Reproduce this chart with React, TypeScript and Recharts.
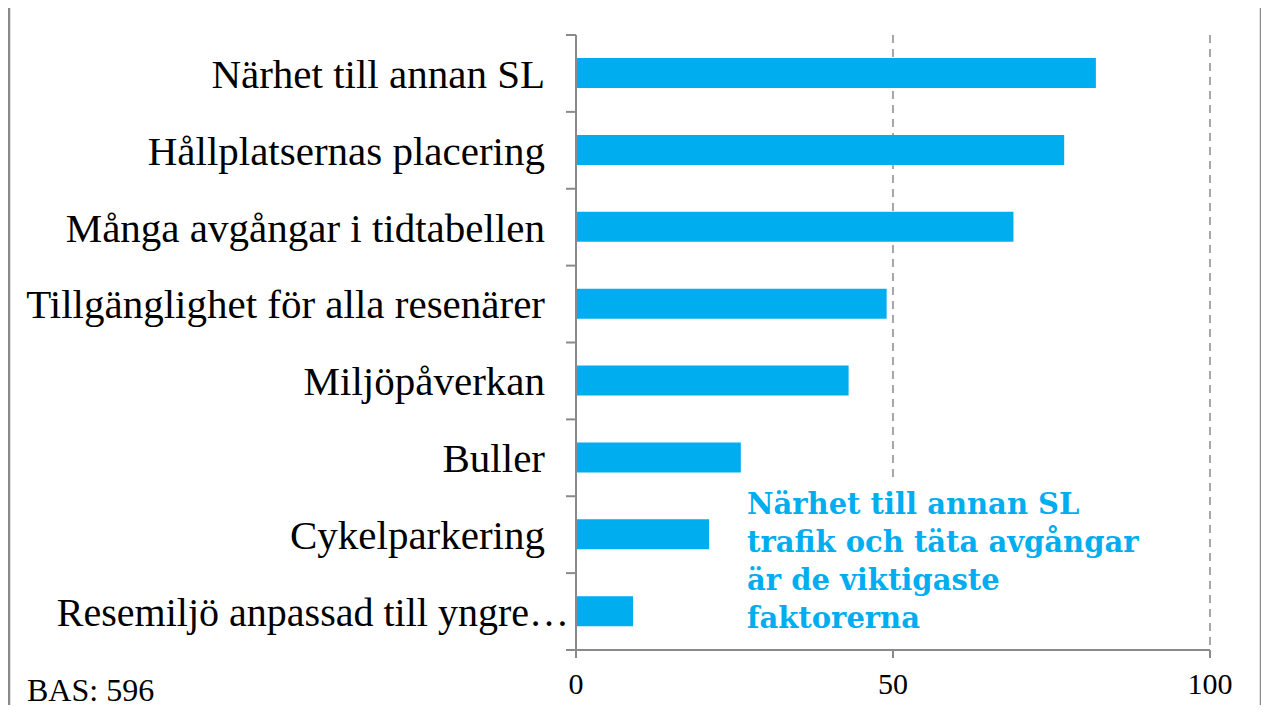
import { Bar, BarChart, CartesianGrid, XAxis, YAxis } from "recharts";

const faktorer = [
  "Närhet till annan SL",
  "Hållplatsernas placering",
  "Många avgångar i tidtabellen",
  "Tillgänglighet för alla resenärer",
  "Miljöpåverkan",
  "Buller",
  "Cykelparkering",
  "Resemiljö anpassad till yngre…",
];
const andelar = [82, 77, 69, 49, 43, 26, 21, 9];
const xTicks = [0, 50, 100];
const kommentar = [
  "Närhet till annan SL",
  "trafik och täta avgångar",
  "är de viktigaste",
  "faktorerna",
];
const bas = "BAS: 596";

const data = faktorer.map((namn, i) => ({ namn, andel: andelar[i] }));

const W = 1269;
const H = 713;
const TOP = 35;
const BOTTOM = 63;
const LEFT = 576;
const RIGHT = 59;
const band = (H - TOP - BOTTOM) / faktorer.length;
const grey = "#8a8a8a";
const blue = "#00AEEF";
const serif = "'Liberation Serif', 'DejaVu Serif', serif";

function KategoriTick(props: any) {
  const { x, y, payload, index } = props;
  const text: string = payload.value;
  const ax = LEFT;
  const trunc = text.endsWith("…");
  return (
    <g>
      <line x1={ax - 10} x2={ax} y1={y - band / 2} y2={y - band / 2} stroke={grey} strokeWidth={2} />
      {index === faktorer.length - 1 && (
        <line x1={ax - 10} x2={ax} y1={y + band / 2} y2={y + band / 2} stroke={grey} strokeWidth={2} />
      )}
      <text
        x={trunc ? ax - 7 : x - 23}
        y={y}
        dy="0.35em"
        textAnchor="end"
        fontFamily={serif}
        fontSize={trunc ? 40 : 41}
        fill="#000"
      >
        {text}
      </text>
    </g>
  );
}

export default function App() {
  return (
    <div style={{ position: "relative", width: W - 16, height: H - 16 }}>
      <div
        style={{
          position: "absolute",
          left: -8,
          top: -8,
          width: W,
          height: H,
          overflow: "hidden",
          background: "#fff",
        }}
      >
        <div style={{ position: "absolute", left: 0, top: 0 }}>
          <BarChart
            width={W}
            height={H}
            data={data}
            layout="vertical"
            margin={{ top: TOP, right: RIGHT, bottom: 0, left: 0 }}
            barCategoryGap={0}
          >
            <CartesianGrid horizontal={false} stroke={grey} strokeDasharray="8 6" strokeWidth={1.5} />
            <XAxis
              type="number"
              domain={[0, 100]}
              ticks={xTicks}
              height={BOTTOM}
              stroke={grey}
              strokeWidth={2}
              tickSize={8}
              tickMargin={15}
              tick={{ fill: "#000", fontSize: 30, fontFamily: serif }}
              interval={0}
            />
            <YAxis
              type="category"
              dataKey="namn"
              width={LEFT}
              stroke={grey}
              strokeWidth={2}
              tickLine={false}
              tick={<KategoriTick />}
              interval={0}
            />
            <Bar dataKey="andel" fill={blue} barSize={30} isAnimationActive={false} />
          </BarChart>
        </div>
        <div
          style={{
            position: "absolute",
            left: 740,
            top: 482,
            width: 410,
            height: 166,
            background: "#fff",
            padding: "3px 0 0 7px",
            boxSizing: "border-box",
            color: blue,
            fontFamily: "'DejaVu Serif', serif",
            fontWeight: "bold",
            fontSize: 29,
            lineHeight: "38px",
            whiteSpace: "nowrap",
          }}
        >
          {kommentar.map((rad) => (
            <div key={rad}>{rad}</div>
          ))}
        </div>
        <div
          style={{
            position: "absolute",
            left: 27,
            top: 672,
            fontFamily: serif,
            fontSize: 32,
            color: "#000",
          }}
        >
          {bas}
        </div>
        <svg
          width={W}
          height={H}
          style={{ position: "absolute", left: 0, top: 0, pointerEvents: "none" }}
        >
          <rect x={9} y={5.5} width={1252} height={740} fill="none" stroke={grey} strokeWidth={2.5} />
        </svg>
      </div>
    </div>
  );
}
